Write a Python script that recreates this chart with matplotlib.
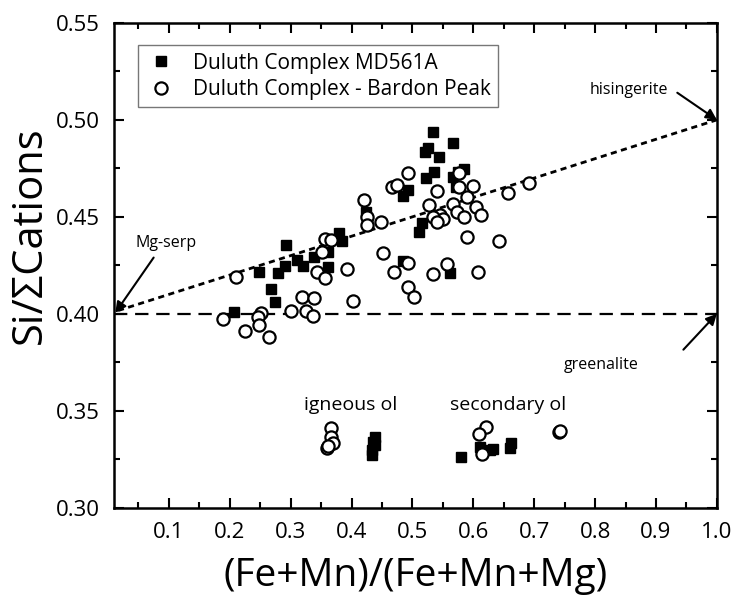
import matplotlib
matplotlib.use("Agg")
import matplotlib.pyplot as plt
from matplotlib.ticker import MultipleLocator

plt.rcParams['font.family'] = ['Open Sans', 'DejaVu Sans']

# Duluth Complex MD561A (filled squares)
md_x = [0.533, 0.566, 0.526, 0.521, 0.544, 0.535, 0.523, 0.584, 0.575, 0.567,
        0.572, 0.493, 0.485, 0.423, 0.516, 0.511, 0.380, 0.385, 0.361, 0.293,
        0.339, 0.311, 0.321, 0.361, 0.290, 0.280, 0.248, 0.267, 0.274, 0.207,
        0.561, 0.485,
        0.438, 0.436, 0.439, 0.433, 0.434,
        0.579, 0.611, 0.633, 0.628, 0.662, 0.661]
md_y = [0.494, 0.488, 0.4856, 0.4835, 0.481, 0.473, 0.470, 0.4747, 0.4732, 0.4706,
        0.4655, 0.464, 0.461, 0.4526, 0.447, 0.442, 0.4418, 0.4376, 0.432, 0.4356,
        0.4294, 0.4278, 0.4247, 0.424, 0.4247, 0.4211, 0.4216, 0.4129, 0.4062, 0.401,
        0.4211, 0.4273,
        0.3366, 0.334, 0.3325, 0.330, 0.3273,
        0.3263, 0.3314, 0.3304, 0.330, 0.3335, 0.331]

# Duluth Complex - Bardon Peak (open circles)
bp_x = [0.492, 0.467, 0.475, 0.421, 0.425, 0.426, 0.449, 0.527, 0.356, 0.366,
        0.351, 0.344, 0.357, 0.393, 0.451, 0.470, 0.492, 0.492, 0.503, 0.211,
        0.318, 0.339, 0.403, 0.300, 0.326, 0.336, 0.251, 0.246, 0.189, 0.225,
        0.265, 0.248,
        0.577, 0.541, 0.577, 0.600, 0.657, 0.692, 0.590, 0.566, 0.605, 0.613,
        0.574, 0.584, 0.546, 0.551, 0.534, 0.541, 0.589, 0.643, 0.534, 0.557,
        0.608,
        0.366, 0.366, 0.369, 0.359, 0.361,
        0.621, 0.610, 0.615, 0.741, 0.743]
bp_y = [0.4727, 0.4655, 0.4665, 0.4588, 0.450, 0.4459, 0.4474, 0.456, 0.4387, 0.4381,
        0.432, 0.4216, 0.4186, 0.4232, 0.4314, 0.4216, 0.4263, 0.4139, 0.4088, 0.419,
        0.4088, 0.4082, 0.4067, 0.4015, 0.4015, 0.399, 0.4005, 0.3985, 0.3974, 0.391,
        0.388, 0.394,
        0.4727, 0.4634, 0.4655, 0.466, 0.4624, 0.4675, 0.460, 0.4567, 0.455, 0.451,
        0.4526, 0.450, 0.451, 0.449, 0.450, 0.4474, 0.4397, 0.4376, 0.4206, 0.4258,
        0.4216,
        0.3412, 0.3366, 0.3335, 0.3309, 0.332,
        0.3418, 0.3381, 0.3278, 0.339, 0.3395]

# reference lines: Mg-serp (0, 0.40) -> hisingerite (1, 0.50), greenalite at 0.40
serp_line_x = [0.0, 1.0]
serp_line_y = [0.40, 0.50]
green_y = 0.40

fig = plt.figure(figsize=(7.36, 6.03), dpi=100)
ax = fig.add_axes([0.155, 0.158, 0.819, 0.804])

ax.plot(serp_line_x, serp_line_y, color='black', lw=2, linestyle=(0, (2.2, 1.6)))
ax.axhline(green_y, color='black', lw=1.6, linestyle=(0, (6, 3.5)))

ax.plot(md_x, md_y, 's', color='black', markersize=7.5, linestyle='none',
        label='Duluth Complex MD561A')
ax.plot(bp_x, bp_y, 'o', markerfacecolor='white', markeredgecolor='black',
        markeredgewidth=1.6, markersize=8.8, linestyle='none',
        label='Duluth Complex - Bardon Peak')

arrow = dict(arrowstyle='-|>', color='black', lw=1.5, mutation_scale=16,
             shrinkA=0, shrinkB=0)
ax.text(0.856, 0.5155, 'hisingerite', fontsize=11.5, ha='center', va='center')
ax.annotate('', xy=(1.0, 0.5), xytext=(0.935, 0.514), arrowprops=arrow)
ax.text(0.81, 0.3737, 'greenalite', fontsize=11.5, ha='center', va='center')
ax.annotate('', xy=(1.0, 0.40), xytext=(0.945, 0.3815), arrowprops=arrow)
ax.text(0.095, 0.4366, 'Mg-serp', fontsize=11.5, ha='center', va='center')
ax.annotate('', xy=(0.012, 0.4005), xytext=(0.075, 0.429), arrowprops=arrow)

ax.text(0.399, 0.353, 'igneous ol', fontsize=14, ha='center', va='center')
ax.text(0.657, 0.353, 'secondary ol', fontsize=14, ha='center', va='center')

ax.set_xlim(0.01, 1.0)
ax.set_ylim(0.30, 0.55)
ax.xaxis.set_minor_locator(MultipleLocator(0.05))
ax.yaxis.set_minor_locator(MultipleLocator(0.025))
ax.set_xticks([0.1, 0.2, 0.3, 0.4, 0.5, 0.6, 0.7, 0.8, 0.9, 1.0])
ax.set_xticklabels(['0.1', '0.2', '0.3', '0.4', '0.5', '0.6', '0.7', '0.8', '0.9', '1.0'])
ax.set_yticks([0.30, 0.35, 0.40, 0.45, 0.50, 0.55])
ax.set_yticklabels(['0.30', '0.35', '0.40', '0.45', '0.50', '0.55'])
ax.tick_params(which='both', direction='in', top=True, right=True, width=1.5,
               labelsize=16, pad=10)
ax.tick_params(which='major', length=7)
ax.tick_params(which='minor', length=4)
for s in ax.spines.values():
    s.set_linewidth(1.8)

ax.set_xlabel('(Fe+Mn)/(Fe+Mn+Mg)', fontsize=28, labelpad=10)
ax.set_ylabel('Si/\u03a3Cations', fontsize=30)
ax.yaxis.set_label_coords(-0.105, 0.563)

leg = ax.legend(loc='upper left', bbox_to_anchor=(0.022, 0.975), fontsize=15,
                frameon=True, fancybox=False, edgecolor='#555555',
                handletextpad=0.8, borderpad=0.35, labelspacing=0.25,
                handlelength=1.5)
leg.get_frame().set_linewidth(1.0)

fig.savefig('out.png', dpi=100)
